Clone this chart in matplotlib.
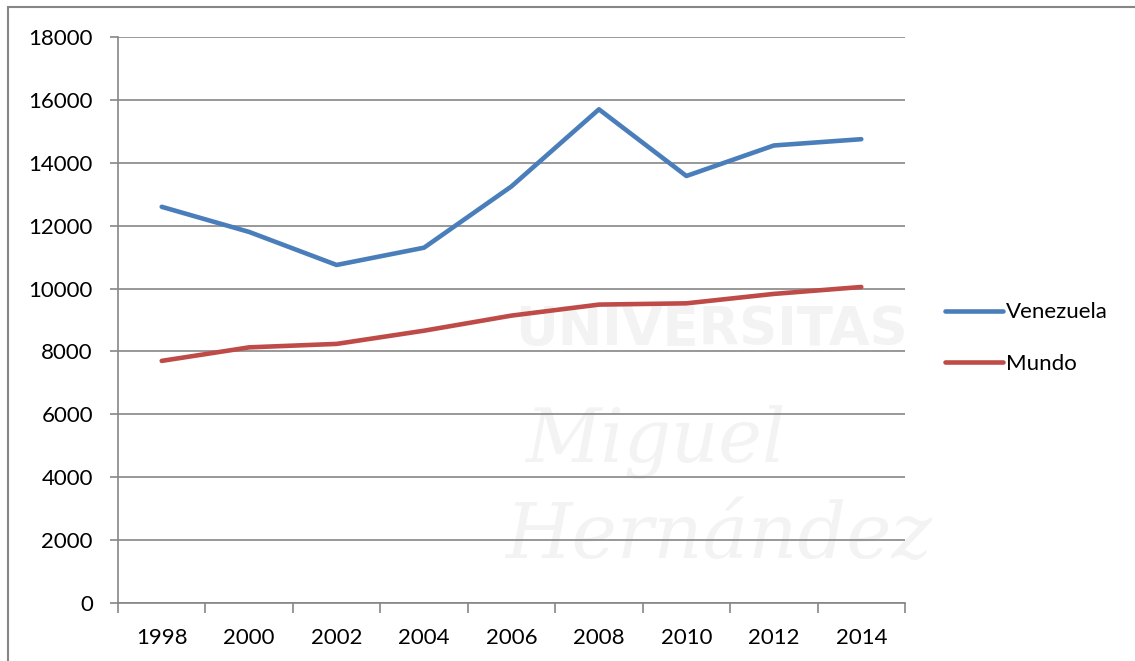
import matplotlib
matplotlib.use("Agg")
import matplotlib.pyplot as plt
from matplotlib.patches import Rectangle

plt.rcParams['font.family'] = ['Lato', 'DejaVu Sans']

# datos
years = ['1998', '2000', '2002', '2004', '2006', '2008', '2010', '2012', '2014']
venezuela = [12600, 11800, 10750, 11300, 13250, 15700, 13580, 14550, 14750]
mundo = [7700, 8130, 8240, 8660, 9140, 9490, 9530, 9830, 10050]

fig = plt.figure(figsize=(11.35, 6.61), dpi=100)
ax = fig.add_axes([118/1135, 58/661, 787/1135, 566/661])
ax.set_zorder(2)
ax.patch.set_alpha(0)

# marca de agua (muy tenue, detrás del gráfico)
wm = '#f3f3f3'
fig.text(515/1135, 1 - 345/661, 'UNIVERSITAS', fontsize=38, fontweight='bold',
         color=wm, zorder=1, family='DejaVu Sans')
fig.text(525/1135, 1 - 462/661, 'Miguel', fontsize=53, style='italic',
         color=wm, zorder=1, family='DejaVu Serif')
fig.text(505/1135, 1 - 558/661, 'Hernández', fontsize=55, style='italic',
         color=wm, zorder=1, family='DejaVu Serif')

x = list(range(len(years)))
ax.plot(x, venezuela, color='#4A7EBB', lw=3.3, label='Venezuela', solid_capstyle='round', zorder=3)
ax.plot(x, mundo, color='#BE4B48', lw=3.3, label='Mundo', solid_capstyle='round', zorder=3)

ax.set_xlim(-0.5, len(years) - 0.5)
ax.set_ylim(0, 18000)
ax.set_yticks(range(0, 18001, 2000))
ax.grid(axis='y', color='#868686', lw=1.2)
ax.set_axisbelow(True)

ax.set_xticks(x)
ax.set_xticklabels(years)
ax.set_xticks([i - 0.5 for i in range(len(years) + 1)], minor=True)
ax.tick_params(axis='x', which='major', length=0, pad=18, labelsize=16)
ax.tick_params(axis='x', which='minor', length=7, width=1.2, color='#868686', direction='out')
ax.tick_params(axis='y', length=6, width=1.2, color='#868686', labelsize=16, pad=12)

for s in ['top', 'right']:
    ax.spines[s].set_visible(False)
for s in ['left', 'bottom']:
    ax.spines[s].set_color('#868686')
    ax.spines[s].set_linewidth(1.2)

fig.legend(loc='center left', bbox_to_anchor=(925/1135, 1 - 338/661), frameon=False,
           fontsize=16, handlelength=2.6, handletextpad=0.15, labelspacing=1.4)

# borde del gráfico
fig.patches.append(Rectangle((8/1135, -0.1), 1.2, 1 - 7/661 + 0.1, transform=fig.transFigure,
                             fill=False, edgecolor='#868686', lw=1.5, zorder=0))

fig.savefig('out.png', dpi=100)
